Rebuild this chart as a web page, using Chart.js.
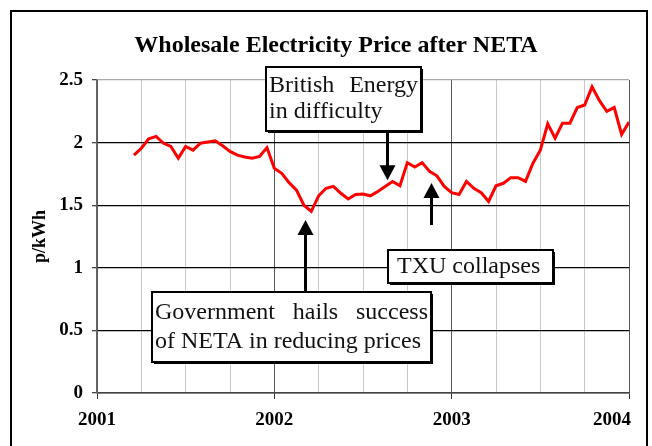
<!DOCTYPE html>
<html>
<head>
<meta charset="utf-8">
<script src="https://cdn.jsdelivr.net/npm/chart.js@4/dist/chart.umd.min.js"></script>
<style>
  html, body { margin: 0; padding: 0; background: #fff; }
  #wrap { position: relative; width: 652px; height: 446px; }
</style>
</head>
<body>
<div id="wrap"><canvas id="grafico-precio" width="652" height="446"></canvas></div>
<script>
// precio mayorista, un punto cada medio mes desde mediados de marzo 2001
var firstHalfMonth = 5;
var prices = [
    1.90, 1.955, 2.03, 2.05, 1.995, 1.97, 1.875, 1.97, 1.94, 1.995, 2.005, 2.015,
    1.975, 1.93, 1.90, 1.885, 1.875, 1.89, 1.96, 1.795, 1.755, 1.68, 1.62, 1.50,
    1.45, 1.575, 1.635, 1.65, 1.595, 1.55, 1.585, 1.59, 1.575, 1.61, 1.65, 1.69,
    1.655, 1.84, 1.805, 1.84, 1.77, 1.735, 1.65, 1.60, 1.585, 1.69, 1.635, 1.60,
    1.53, 1.655, 1.675, 1.72, 1.72, 1.69, 1.835, 1.94, 2.15, 2.035, 2.155, 2.155,
    2.28, 2.30, 2.445, 2.335, 2.25, 2.28, 2.065, 2.165
];
var yearTicks = [2001, 2002, 2003, 2004];
var priceTicks = [0, 0.5, 1, 1.5, 2, 2.5];

var puntos = [];
for (var i = 0; i < prices.length; i++) {
    puntos.push({ x: yearTicks[0] + (firstHalfMonth + i) / 24, y: prices[i] });
}

// notas: flecha en coordenadas de datos, caja en pixeles
var notas = [
    { lines: ["British   Energy", "in difficulty"], box: [266, 67, 155, 64], base: [25, 51],
      arrow: { x: 2002.634, from: 2.09, to: 1.70 } },
    { lines: ["TXU collapses"], box: [388, 250, 165, 33], base: [23], indent: 9,
      arrow: { x: 2002.882, from: 1.342, to: 1.677 } },
    { lines: ["Government hails success", "of NETA in reducing prices"], box: [152, 292, 279, 70], base: [27, 56],
      arrow: { x: 2002.172, from: 0.807, to: 1.382 } }
];

var serif = '"Liberation Serif", "Times New Roman", serif';

function drawJustified(ctx, text, x, y, w) {
    var words = text.split(/\s+/);
    if (words.length < 2) { ctx.fillText(text, x, y); return; }
    var total = 0;
    words.forEach(function (wd) { total += ctx.measureText(wd).width; });
    var gap = (w - total) / (words.length - 1);
    var cx = x;
    words.forEach(function (wd) { ctx.fillText(wd, cx, y); cx += ctx.measureText(wd).width + gap; });
}

var extras = {
    id: 'extras',
    beforeDraw: function (chart) {
        var ctx = chart.ctx;
        // la ultima etiqueta (2004) queda dentro del marco, alineada a la derecha
        var xs = chart.scales.x;
        var items = xs.getLabelItems(chart.chartArea);
        items.forEach(function (it) {
            if (it.label === String(yearTicks[yearTicks.length - 1])) {
                it.options.textAlign = 'right';
                it.options.translation[0] = chart.chartArea.right + 2;
            }
        });
        ctx.save();
        ctx.fillStyle = '#fff';
        ctx.fillRect(0, 0, chart.width, chart.height);
        ctx.strokeStyle = '#000';
        ctx.lineWidth = 2;
        ctx.strokeRect(11, 11, 636, 460);
        ctx.fillStyle = '#000';
        ctx.font = 'bold 24px ' + serif;
        ctx.textAlign = 'center';
        ctx.textBaseline = 'alphabetic';
        ctx.fillText('Wholesale Electricity Price after NETA', 336, 52);
        ctx.restore();
    },
    afterDraw: function (chart) {
        var ctx = chart.ctx;
        var xs = chart.scales.x, ys = chart.scales.y;
        ctx.save();
        notas.forEach(function (n) {
            var ax = Math.round(xs.getPixelForValue(n.arrow.x)) + 0.5;
            var y0 = ys.getPixelForValue(n.arrow.from);
            var y1 = ys.getPixelForValue(n.arrow.to);
            var dir = y1 > y0 ? 1 : -1;
            ctx.strokeStyle = '#000';
            ctx.lineWidth = 3;
            ctx.beginPath();
            ctx.moveTo(ax, y0);
            ctx.lineTo(ax, y1 - dir * 12);
            ctx.stroke();
            ctx.fillStyle = '#000';
            ctx.beginPath();
            ctx.moveTo(ax, y1);
            ctx.lineTo(ax - 8, y1 - dir * 15);
            ctx.lineTo(ax + 8, y1 - dir * 15);
            ctx.closePath();
            ctx.fill();

            var b = n.box;
            ctx.fillStyle = '#000';
            ctx.fillRect(b[0] + 2, b[1] + 2, b[2], b[3]);
            ctx.fillStyle = '#fff';
            ctx.fillRect(b[0], b[1], b[2], b[3]);
            ctx.lineWidth = 2;
            ctx.strokeRect(b[0], b[1], b[2], b[3]);
            ctx.fillStyle = '#111';
            ctx.font = '24px ' + serif;
            ctx.textAlign = 'left';
            ctx.textBaseline = 'alphabetic';
            var tx = b[0] + (n.indent || 3), tw = b[2] - 6;
            n.lines.forEach(function (ln, k) {
                if (k === 0 && n.lines.length > 1) drawJustified(ctx, ln, tx, b[1] + n.base[k], tw);
                else ctx.fillText(ln, tx, b[1] + n.base[k]);
            });
        });
        ctx.restore();
    }
};

const ctx = document.getElementById("grafico-precio");
var myChart = new Chart(ctx, {
    type: 'line',
    data: {
        datasets: [{
            label: 'Precio',
            data: puntos,
            borderColor: '#ff0000',
            borderWidth: 3,
            pointRadius: 0,
            tension: 0,
            fill: false
        }]
    },
    options: {
        responsive: false,
        animation: false,
        devicePixelRatio: 1,
        layout: { padding: { top: 80, right: 23, left: 0, bottom: 0 } },
        plugins: { legend: { display: false }, title: { display: false }, tooltip: { enabled: false } },
        scales: {
            x: {
                type: 'linear',
                min: yearTicks[0],
                max: yearTicks[yearTicks.length - 1],
                afterBuildTicks: function (scale) {
                    var t = [];
                    for (var v = 0; v <= (yearTicks.length - 1) * 4; v++) t.push({ value: yearTicks[0] + v / 4 });
                    scale.ticks = t;
                },
                afterFit: function (scale) {
                    scale.height = 53;
                    scale.paddingLeft = 0;
                    scale.paddingRight = 0;
                },
                ticks: {
                    autoSkip: false,
                    maxRotation: 0,
                    padding: 10,
                    color: '#000',
                    font: { family: serif, size: 19, weight: 'bold' },
                    callback: function (v) { return yearTicks.indexOf(v) >= 0 ? String(v) : ''; }
                },
                grid: {
                    color: function (c) { return Number.isInteger(c.tick.value) ? '#555' : '#c8c8c8'; },
                    tickColor: function (c) { return Number.isInteger(c.tick.value) ? '#333' : 'rgba(0,0,0,0)'; },
                    lineWidth: 1,
                    tickLength: 6
                },
                border: { color: '#444', width: 1.5 }
            },
            y: {
                min: 0,
                max: 2.5,
                afterBuildTicks: function (scale) {
                    scale.ticks = priceTicks.map(function (v) { return { value: v }; });
                },
                afterFit: function (scale) {
                    scale.width = 97;
                    scale.paddingTop = 0;
                    scale.paddingBottom = 0;
                },
                ticks: {
                    padding: 9,
                    color: '#000',
                    font: { family: serif, size: 19, weight: 'bold' },
                    callback: function (v) { return String(v); }
                },
                grid: {
                    color: function (c) { return c.tick.value === 2.5 ? '#aaa' : '#000'; },
                    tickColor: '#444',
                    lineWidth: 1.3,
                    tickLength: 5
                },
                border: { color: '#666', width: 1.5 },
                title: {
                    display: true,
                    text: 'p/kWh',
                    color: '#000',
                    font: { family: serif, size: 18, weight: 'bold' },
                    padding: { top: 30, bottom: 0 }
                }
            }
        }
    },
    plugins: [extras]
});
</script>
</body>
</html>
